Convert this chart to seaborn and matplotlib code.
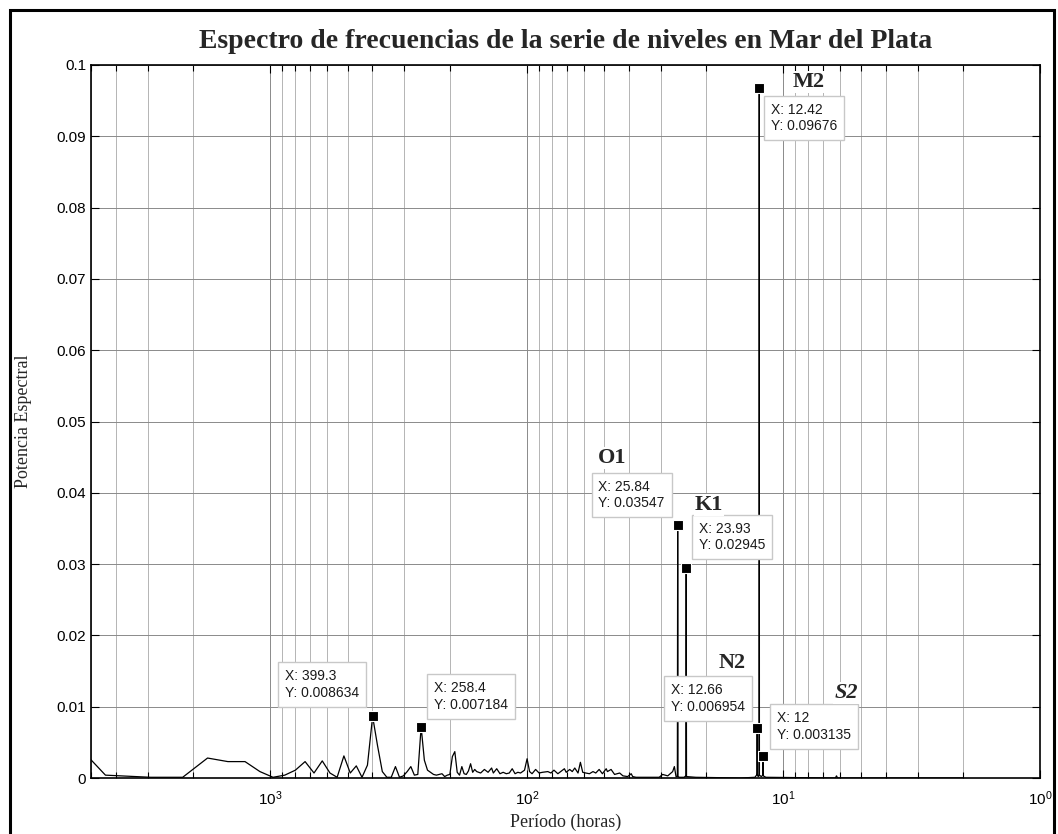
"""
Espectro de frecuencias - serie de niveles en Mar del Plata.
"""
import numpy as np
import pandas as pd
import matplotlib
matplotlib.use('Agg')
import matplotlib.pyplot as plt
import seaborn as sns
from matplotlib.patches import Rectangle
from matplotlib.ticker import MultipleLocator, FuncFormatter, LogLocator

# record length (hours) -> period = RECORD_HOURS / harmonic
RECORD_HOURS = 8784.0

# harmonic number and spectral power
harmonic = [1, 2, 3, 4, 5, 6, 7, 8, 9, 10, 11, 12, 13, 14, 15, 16, 17, 18, 19, 20,
            21, 22, 23, 24, 25, 26, 27, 28, 29, 30, 31, 32, 33, 34, 35, 36, 37, 38, 39, 40,
            41, 42, 43, 44, 45, 46, 47, 48, 49, 50, 51, 52, 53, 54, 55, 56, 58, 60, 62, 64,
            65, 67, 69, 71, 73, 75, 77, 79, 81, 83, 86, 88, 90, 92, 95, 98, 101, 106, 109, 112,
            116, 119, 123, 125, 129, 132, 135, 139, 142, 145, 149, 154, 159, 163, 168, 173, 179, 181, 187, 193,
            202, 208, 217, 224, 227, 234, 288, 297, 311, 325, 330, 335, 339, 340, 341, 345, 360, 366, 367, 368,
            400, 600, 680, 690, 693, 694, 695, 700, 706, 707, 708, 720, 731, 732, 733, 750, 1400, 1414, 1428, 4392]
power = [0.0119, 0.0004, 0.0001, 0.0001, 0.0028, 0.0023, 0.0023, 0.0009, 0.0001, 0.0004,
         0.0011, 0.0023, 0.0007, 0.0024, 0.0007, 0.0001, 0.0031, 0.0007, 0.0017, 0.0001,
         0.0018, 0.008634, 0.0045, 0.0009, 0.0001, 0.0001, 0.0016, 0.0001, 0.0003, 0.0009,
         0.0016, 0.0004, 0.0005, 0.007184, 0.0025, 0.0011, 0.0008, 0.0005, 0.0004, 0.0005,
         0.0006, 0.0002, 0.0004, 0.0005, 0.0030, 0.0037, 0.0008, 0.0004, 0.0016, 0.0006,
         0.0005, 0.0010, 0.0020, 0.0008, 0.0012, 0.0009, 0.0007, 0.0012, 0.0008, 0.0014,
         0.0007, 0.0013, 0.0006, 0.0008, 0.0006, 0.0007, 0.0013, 0.0006, 0.0008, 0.0007,
         0.0011, 0.0027, 0.0009, 0.0006, 0.0012, 0.0007, 0.0008, 0.0009, 0.0007, 0.0011,
         0.0006, 0.0009, 0.0013, 0.0008, 0.0012, 0.0009, 0.0014, 0.0007, 0.0022, 0.0008,
         0.0007, 0.0006, 0.0009, 0.0007, 0.0012, 0.0006, 0.0013, 0.0009, 0.0012, 0.0005,
         0.0007, 0.0003, 0.0002, 0.0006, 0.0002, 0.0001, 0.0001, 0.0005, 0.0003, 0.0009,
         0.0016, 0.0002, 0.0002, 0.03547, 0.0002, 0.0001, 0.0001, 0.0003, 0.02945, 0.0002,
         0.0001, 0.0, 0.0001, 0.0004, 0.0006, 0.006954, 0.0005, 0.0002, 0.0003, 0.09676,
         0.0004, 0.0002, 0.0004, 0.003135, 0.0003, 0.0001, 0.0, 0.0003, 0.0, 0.0]

# data tips: harmonic, constituent label
tip_harmonic = [22, 34, 340, 367, 694, 707, 732]
tip_name = ['', '', 'O1', 'K1', 'N2', 'M2', 'S2']
# box offsets (px) and label offsets (px) relative to each marker
tip_box_offset = [(-51, 32), (50, 30), (-46, 30), (46, 31), (-49, 30), (45, -30), (51, 29)]
tip_label_offset = [None, None, (-66, 67), (23, 63), (-25, 65), (49, 6), (83, 63)]

df = pd.DataFrame({'k': harmonic, 'power': power})
df['period'] = RECORD_HOURS / df['k']
tips = df.set_index('k').loc[tip_harmonic].reset_index()

sns.set_theme(style='ticks')
plt.rcParams['font.family'] = ['Liberation Sans', 'DejaVu Sans']
plt.rcParams['mathtext.default'] = 'regular'

W, H = 1058, 834
fig = plt.figure(figsize=(W / 100, H / 100), dpi=100)
fig.patch.set_facecolor('white')
ax = fig.add_axes([91 / W, 1 - 778 / H, (1040 - 91) / W, (778 - 65) / H])

ax.set_xscale('log')
ax.set_xlim(5000, 1)
ax.set_ylim(0, 0.1)

ax.yaxis.set_major_locator(MultipleLocator(0.01))
ax.yaxis.set_major_formatter(FuncFormatter(lambda v, p: f'{v:g}'))
ax.xaxis.set_major_locator(LogLocator(base=10, numticks=10))
ax.xaxis.set_minor_locator(LogLocator(base=10, subs=np.arange(2, 10), numticks=20))

ax.grid(True, which='major', axis='both', color='#8a8a8a', lw=0.7)
ax.grid(True, which='minor', axis='x', color='#b4b4b4', lw=0.7)
ax.set_axisbelow(True)

sns.lineplot(data=df, x='period', y='power', color='black', linewidth=0.9,
             sort=False, estimator=None, ax=ax, zorder=3)
sns.scatterplot(data=tips, x='period', y='power', marker='s', s=55, color='black',
                edgecolor='white', linewidth=0.8, ax=ax, zorder=5)

for (_, row), boff, name, loff in zip(tips.iterrows(), tip_box_offset, tip_name, tip_label_offset):
    txt = f"X: {row['period']:.4g}\nY: {row['power']:.4g}"
    ax.annotate(txt, xy=(row['period'], row['power']), xytext=boff,
                textcoords='offset pixels', ha='center', va='center', multialignment='left',
                fontsize=10, color='#1a1a1a', linespacing=1.25, zorder=6,
                bbox=dict(boxstyle='square,pad=0.5', fc='white', ec='#c8c8c8', lw=1))
    if name:
        ax.annotate(name, xy=(row['period'], row['power']), xytext=loff,
                    textcoords='offset pixels', ha='center', va='center',
                    fontsize=16, fontweight='bold', family=['Liberation Serif'],
                    fontstyle='italic' if name == 'S2' else 'normal', zorder=6,
                    bbox=dict(boxstyle='square,pad=0.05', fc='white', ec='none'))

for s in ax.spines.values():
    s.set_color('black')
    s.set_linewidth(1.2)
ax.tick_params(which='both', direction='in', top=True, right=True, colors='black',
               labelsize=11, width=0.8)
ax.tick_params(which='major', length=6)
ax.tick_params(which='minor', length=4)
ax.tick_params(axis='x', which='major', pad=8)

ax.set_title('Espectro de frecuencias de la serie de niveles en Mar del Plata',
             fontsize=20, fontweight='bold', family=['Liberation Serif'], pad=12)
ax.set_xlabel('Período (horas)', fontsize=13, family=['Liberation Serif'], labelpad=4)
ax.set_ylabel('Potencia Espectral', fontsize=13, family=['Liberation Serif'], labelpad=18)

# outer frame of the exported figure (drawn under the axes texts)
frame = Rectangle((10 / W, -0.1), (1054 - 10) / W, 1 - 10 / H + 0.1,
                  transform=fig.transFigure, fill=False, ec='black', lw=2.2, zorder=-1)
fig.patches.append(frame)

fig.savefig('out.png', dpi=100, facecolor='white')
